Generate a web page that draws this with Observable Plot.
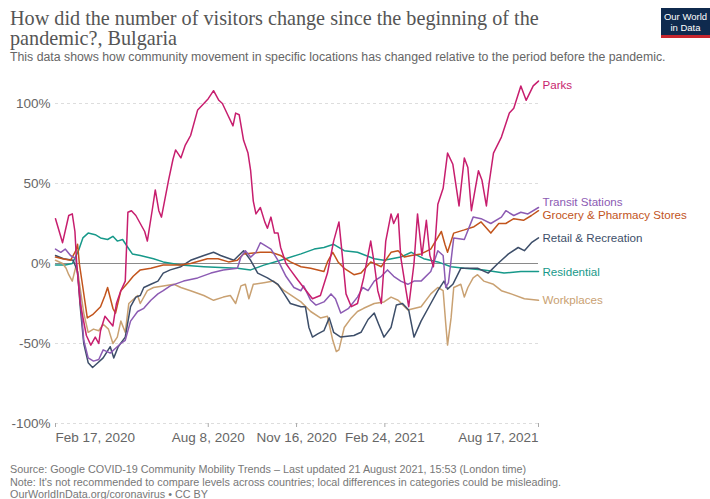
<!DOCTYPE html>
<html><head><meta charset="utf-8">
<script src="https://cdn.jsdelivr.net/npm/d3@7"></script>
<script src="https://cdn.jsdelivr.net/npm/@observablehq/plot@0.6"></script>
<style>
html,body{margin:0;padding:0;background:#fff}
body{width:710px;height:499px;overflow:hidden;position:relative;font-family:"Liberation Sans",Arial,sans-serif}
#title{position:absolute;left:10px;top:8px;font-family:"Liberation Serif","DejaVu Serif",serif;font-size:20.2px;line-height:20px;color:#555;white-space:nowrap}
#sub{position:absolute;left:10px;top:50px;font-size:12.3px;line-height:14px;color:#666;white-space:nowrap}
#logo{position:absolute;left:661px;top:8px;width:49px;height:30px;background:#0f2a4e;border-bottom:3px solid #c8262e;color:#fff;font-size:9.5px;line-height:10.5px;text-align:center;padding-top:4px;box-sizing:border-box;font-family:"Liberation Sans Narrow","Liberation Sans",sans-serif}
#chart{position:absolute;left:0;top:66px}
#foot{position:absolute;left:10px;top:463px;font-size:10.8px;line-height:12.7px;color:#777;white-space:nowrap}
</style></head>
<body>
<div id="title">How did the number of visitors change since the beginning of the<br>pandemic?, Bulgaria</div>
<div id="sub">This data shows how community movement in specific locations has changed relative to the period before the pandemic.</div>
<div id="logo">Our World<br>in Data</div>
<div id="chart"></div>
<div id="foot">Source: Google COVID-19 Community Mobility Trends – Last updated 21 August 2021, 15:53 (London time)<br>Note: It's not recommended to compare levels across countries; local differences in categories could be misleading.<br>OurWorldInData.org/coronavirus • CC BY</div>
<script>
// Dates are given as days since Feb 17, 2020; values are % change vs. baseline
const startDate = "2020-02-17";
const endDate = "2021-08-17";
const seriesNames = ["Parks","Transit Stations","Grocery & Pharmacy Stores","Retail & Recreation","Residential","Workplaces"];
const seriesColors = ["#c71e6e","#8c5bb3","#c2541c","#3d4e69","#17998a","#c9a172"];
const xTickDates = ["2020-02-17","2020-08-08","2020-11-16","2021-02-24","2021-08-17"];
const xTickLabels = ["Feb 17, 2020","Aug 8, 2020","Nov 16, 2020","Feb 24, 2021","Aug 17, 2021"];
const yTicks = [-100,-50,0,50,100];

const parks = [[0,28],[8,13],[15,30],[19,31],[22,20],[24,0],[28,-25],[35,-45],[40,-51],[45,-46],[49,-50],[51,-42],[56,-33],[59,-35],[65,-39],[69,-25],[74,-17],[79,-11],[82,32],[86,33],[91,30],[96,25],[101,20],[104,14],[110,35],[113,46],[117,33],[120,29],[128,52],[133,65],[136,71],[142,66],[147,74],[150,77],[153,80],[161,96],[168,100],[173,103],[179,108],[185,102],[189,100],[195,93],[201,86],[204,94],[208,93],[213,77],[218,69],[221,58],[224,39],[227,31],[232,35],[237,26],[240,22],[244,29],[248,19],[252,19],[255,10],[261,0],[266,-4],[274,-10],[281,-15],[291,-22],[300,-20],[308,-6],[315,14],[321,26],[325,4],[329,-19],[335,-27],[342,-25],[349,-9],[357,14],[361,0],[365,-17],[369,-25],[374,14],[380,31],[383,25],[388,31],[391,4],[397,-17],[400,-27],[406,0],[410,31],[415,5],[420,27],[424,5],[428,-2],[433,37],[439,47],[444,69],[450,62],[457,36],[463,66],[467,60],[471,33],[479,58],[483,52],[488,36],[491,50],[496,69],[505,79],[514,94],[519,97],[527,111],[533,102],[541,111],[547,114]];
const transit = [[0,9],[6,7],[11,9],[17,5],[23,3],[28,-21],[32,-48],[37,-59],[43,-61],[49,-60],[54,-54],[62,-56],[68,-53],[74,-50],[79,-48],[85,-36],[93,-30],[100,-28],[108,-23],[116,-19],[122,-17],[130,-14],[145,-11],[161,-9],[176,-6],[190,-4],[206,-3],[210,4],[215,8],[221,4],[227,7],[232,13],[238,11],[244,9],[252,2],[261,-8],[270,-15],[278,-17],[281,-14],[289,-23],[295,-26],[304,-24],[312,-19],[317,-22],[323,-31],[332,-28],[342,-21],[348,-15],[354,-17],[361,-11],[369,-8],[376,-4],[383,-8],[391,-11],[399,-13],[406,-11],[414,-11],[425,-5],[433,8],[439,5],[442,-15],[445,-12],[451,16],[463,15],[473,29],[482,28],[493,25],[505,29],[510,33],[519,30],[527,32],[535,31],[547,35]];
const grocery = [[0,4],[8,3],[17,2],[23,8],[25,12],[27,0],[31,-15],[36,-34],[42,-32],[51,-27],[56,-20],[59,-15],[65,-28],[68,-31],[74,-17],[82,-12],[88,-8],[96,-4],[108,-3],[122,-1],[142,-1],[153,0],[172,3],[184,3],[196,1],[206,2],[213,6],[232,7],[244,7],[255,5],[266,1],[278,-2],[289,-3],[304,-5],[308,1],[314,7],[320,1],[327,-3],[338,-7],[346,-6],[357,1],[369,-2],[380,7],[388,8],[395,4],[403,5],[414,6],[425,9],[437,20],[441,12],[444,7],[451,19],[463,21],[474,23],[482,26],[493,19],[502,25],[510,25],[519,28],[530,27],[539,30],[547,33]];
const retail = [[0,5],[9,3],[20,2],[25,-5],[28,-27],[32,-50],[37,-62],[42,-65],[48,-62],[54,-59],[62,-52],[66,-59],[71,-52],[79,-46],[85,-27],[91,-21],[96,-20],[100,-15],[108,-13],[116,-11],[122,-6],[130,-4],[142,-2],[153,2],[168,5],[179,7],[187,5],[202,2],[213,8],[221,2],[229,-6],[240,-9],[252,-13],[259,-19],[266,-25],[278,-27],[283,-27],[287,-40],[291,-46],[297,-44],[304,-42],[310,-34],[315,-43],[323,-46],[338,-45],[346,-43],[354,-35],[361,-31],[366,-38],[372,-46],[380,-40],[386,-26],[393,-25],[400,-29],[406,-46],[414,-36],[425,-25],[433,-17],[440,-11],[444,-16],[450,-13],[459,-3],[471,-3],[478,-3],[490,-6],[501,0],[513,6],[524,10],[531,8],[539,13],[547,16]];
const residential = [[0,-1],[11,-1],[19,0],[26,8],[31,16],[37,19],[45,18],[51,16],[59,15],[65,17],[70,14],[76,15],[82,10],[87,6],[96,5],[111,3],[122,1],[142,-1],[168,-2],[206,-3],[221,-4],[236,-1],[255,2],[278,6],[293,9],[304,10],[315,12],[327,8],[342,7],[361,3],[372,2],[391,4],[403,7],[417,3],[433,1],[448,-2],[463,-3],[485,-4],[508,-6],[527,-5],[547,-5]];
const workplaces = [[0,2],[8,0],[12,-3],[15,-7],[19,-11],[23,-2],[26,-8],[32,-31],[37,-43],[43,-41],[49,-42],[54,-38],[60,-41],[65,-50],[70,-46],[74,-36],[79,-43],[83,-25],[93,-20],[96,-25],[104,-17],[111,-15],[122,-14],[134,-13],[142,-15],[153,-17],[168,-20],[179,-23],[190,-21],[198,-20],[204,-25],[210,-14],[215,-13],[219,-22],[224,-13],[236,-12],[247,-11],[259,-17],[270,-21],[278,-24],[289,-30],[300,-34],[308,-33],[314,-48],[318,-55],[321,-54],[327,-40],[335,-34],[342,-30],[349,-28],[361,-25],[372,-24],[380,-21],[388,-23],[399,-29],[414,-27],[425,-19],[433,-15],[439,-17],[442,-38],[444,-51],[448,-34],[451,-15],[459,-13],[463,-21],[467,-15],[473,-9],[478,-7],[485,-11],[496,-13],[505,-17],[516,-19],[531,-22],[547,-23]];

const seriesValues = [parks, transit, grocery, retail, residential, workplaces];
const labelDy = [4, -5, 5, 0, 1, 0];

const t0 = new Date(startDate + "T00:00:00Z").getTime();
const toDate = d => new Date(t0 + d * 864e5);
const rows = seriesValues.flatMap((s, i) => s.map(([d, v]) => ({series: seriesNames[i], date: toDate(d), value: v})));
const drawOrder = [4, 5, 3, 2, 1, 0];
const ticks = xTickDates.map((d, i) => ({date: new Date(d + "T00:00:00Z"), label: xTickLabels[i]}));

const font = "Liberation Sans, Arial, sans-serif";
const chart = Plot.plot({
  width: 710,
  height: 385,
  marginLeft: 55,
  marginRight: 172,
  marginTop: 37,
  marginBottom: 28,
  style: {fontFamily: font, background: "#fff", overflow: "visible"},
  x: {type: "utc", domain: [new Date(startDate + "T00:00:00Z"), new Date(endDate + "T00:00:00Z")]},
  y: {domain: [-100, 100]},
  color: {domain: seriesNames, range: seriesColors},
  marks: [
    Plot.gridY(yTicks, {stroke: "#dddddd", strokeOpacity: 1, strokeDasharray: "3,3"}),
    Plot.axisY({ticks: yTicks, tickFormat: d => d + "%", tickSize: 0, tickPadding: 5, fontSize: 13.5, fill: "#666", label: null}),
    Plot.axisX({ticks: ticks.map(t => t.date), tickSize: 4, tickFormat: () => "", stroke: "#aaa", label: null}),
    Plot.text(ticks.slice(0, 1), {x: "date", y: () => -100, text: "label", textAnchor: "start", dy: 14, fontSize: 13.5, fill: "#666"}),
    Plot.text(ticks.slice(1, 4), {x: "date", y: () => -100, text: "label", textAnchor: "middle", dy: 14, fontSize: 13.5, fill: "#666"}),
    Plot.text(ticks.slice(4), {x: "date", y: () => -100, text: "label", textAnchor: "end", dy: 14, fontSize: 13.5, fill: "#666"}),
    Plot.ruleY([0], {stroke: "#8a8a8a", strokeWidth: 1}),
    ...drawOrder.map(i => Plot.line(rows.filter(r => r.series === seriesNames[i]), {x: "date", y: "value", stroke: "series", strokeWidth: 1.5})),
    ...seriesNames.map((n, i) => {
      const last = seriesValues[i][seriesValues[i].length - 1];
      return Plot.text([{series: n, date: toDate(last[0]), value: last[1]}], {x: "date", y: "value", text: "series", fill: "series", textAnchor: "start", dx: 4, dy: labelDy[i], fontSize: 11.6});
    })
  ]
});
document.getElementById("chart").appendChild(chart);
</script>
</body></html>
